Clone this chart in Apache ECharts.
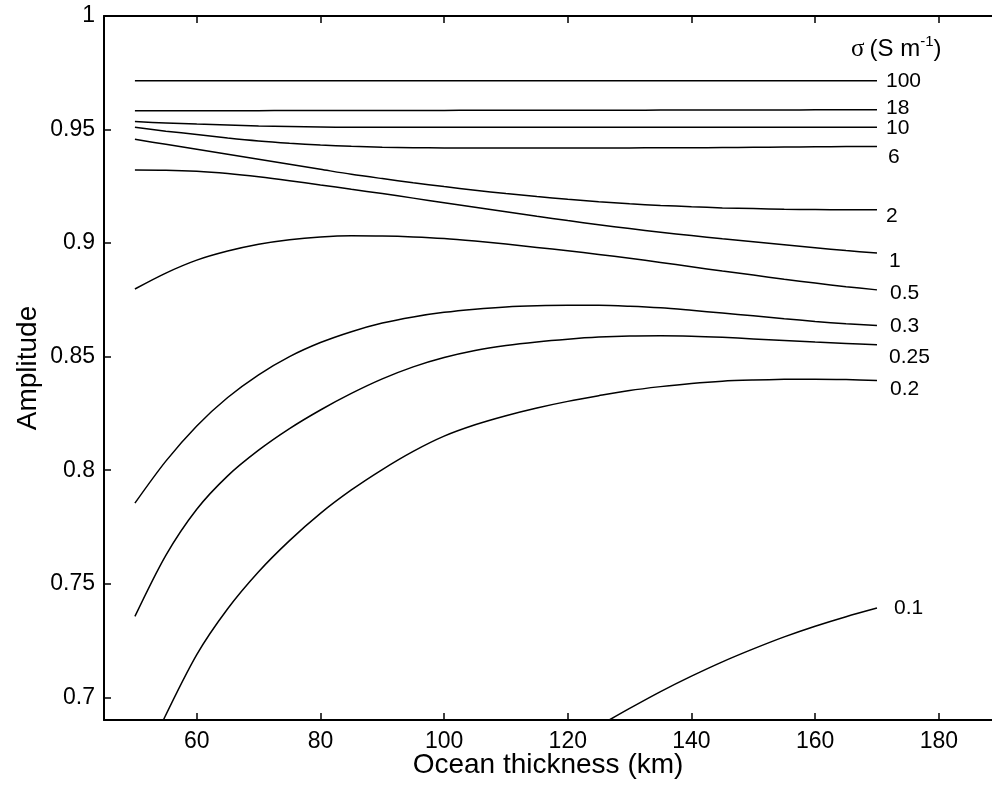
<!DOCTYPE html>
<html><head><meta charset="utf-8">
<script src="https://cdn.jsdelivr.net/npm/echarts@6/dist/echarts.min.js"></script>
<style>html,body{margin:0;padding:0;background:#fff}#c{width:992px;height:790px}</style>
</head><body><div id="c"></div>
<script>
// ---- data ----
const thickness = [50,55,60,65,70,75,80,85,90,95,100,105,110,115,120,125,130,135,140,145,150,155,160,165,170];
const thickness02 = [54.6,60,65,70,75,80,85,90,95,100,105,110,115,120,125,130,135,140,145,150,155,160,165,170];
const thickness01 = [126.7,130,135,140,145,150,155,160,165,170];

const amp100 = [0.9715,0.9715,0.9715,0.9715,0.9715,0.9715,0.9715,0.9715,0.9715,0.9715,0.9715,0.9715,0.9715,0.9715,0.9715,0.9715,0.9715,0.9715,0.9715,0.9715,0.9715,0.9715,0.9715,0.9715,0.9715];
const amp18  = [0.9583,0.9583,0.9583,0.9583,0.9583,0.9584,0.9584,0.9584,0.9584,0.9584,0.9584,0.9585,0.9585,0.9585,0.9585,0.9585,0.9585,0.9586,0.9586,0.9586,0.9586,0.9586,0.9587,0.9587,0.9587];
const amp10  = [0.9535,0.9529,0.9524,0.9520,0.9516,0.9513,0.9511,0.9510,0.9510,0.9510,0.9510,0.9510,0.9510,0.9510,0.9510,0.9510,0.9510,0.9510,0.9510,0.9510,0.9510,0.9510,0.9510,0.9510,0.9510];
const amp6   = [0.9510,0.9493,0.9478,0.9463,0.9450,0.9440,0.9432,0.9426,0.9422,0.9420,0.9419,0.9419,0.9419,0.9419,0.9419,0.9419,0.9419,0.9420,0.9420,0.9421,0.9422,0.9423,0.9424,0.9425,0.9425];
const amp2   = [0.9457,0.9435,0.9413,0.9391,0.9369,0.9347,0.9325,0.9303,0.9284,0.9266,0.9249,0.9233,0.9218,0.9205,0.9193,0.9182,0.9173,0.9166,0.9160,0.9155,0.9152,0.9149,0.9148,0.9147,0.9147];
const amp1   = [0.9322,0.9321,0.9316,0.9306,0.9292,0.9275,0.9256,0.9237,0.9218,0.9198,0.9178,0.9158,0.9138,0.9118,0.9099,0.9081,0.9064,0.9048,0.9033,0.9019,0.9006,0.8993,0.8980,0.8967,0.8956];
const amp05  = [0.8798,0.8868,0.8925,0.8965,0.8995,0.9015,0.9027,0.9032,0.9031,0.9027,0.9020,0.9009,0.8996,0.8981,0.8966,0.8950,0.8933,0.8915,0.8896,0.8877,0.8859,0.8841,0.8824,0.8808,0.8794];
const amp03  = [0.7855,0.8040,0.8195,0.8320,0.8420,0.8500,0.8562,0.8610,0.8648,0.8675,0.8695,0.8709,0.8719,0.8724,0.8726,0.8726,0.8722,0.8715,0.8704,0.8692,0.8680,0.8667,0.8655,0.8645,0.8637];
const amp025 = [0.7356,0.7625,0.7828,0.7975,0.8088,0.8183,0.8265,0.8338,0.8402,0.8455,0.8496,0.8527,0.8549,0.8565,0.8577,0.8586,0.8591,0.8592,0.8590,0.8585,0.8578,0.8571,0.8564,0.8558,0.8552];
const amp02  = [0.6900,0.7188,0.7390,0.7553,0.7690,0.7810,0.7913,0.8003,0.8083,0.8150,0.8200,0.8240,0.8274,0.8303,0.8328,0.8351,0.8368,0.8382,0.8392,0.8397,0.8400,0.8401,0.8399,0.8395];
const amp01  = [0.6900,0.6951,0.7025,0.7093,0.7156,0.7213,0.7266,0.7313,0.7355,0.7393];

const sigmaNames = ['100','18','10','6','2','1','0.5','0.3','0.25','0.2','0.1'];
const xTicks = [60,80,100,120,140,160,180];
const yTicks = [0.7,0.75,0.8,0.85,0.9,0.95,1];

// ---- styling (label nudges in px) ----
const labelDx = [0,0,0,2,0,3,4,4,3,4,8];
const labelDy = [0,-1.5,1,11,6,8,3,1,12,9,0];

const xSets = [thickness,thickness,thickness,thickness,thickness,thickness,thickness,thickness,thickness,thickness02,thickness01];
const ySets = [amp100,amp18,amp10,amp6,amp2,amp1,amp05,amp03,amp025,amp02,amp01];

const FONT = 'Liberation Sans, Arial, Helvetica, sans-serif';
const series = sigmaNames.map((name, i) => ({
  type: 'line',
  name: name,
  data: xSets[i].map((x, j) => [x, ySets[i][j]]),
  showSymbol: false,
  symbol: 'none',
  smooth: 0.3,
  clip: true,
  lineStyle: { color: '#000', width: 1.5 },
  endLabel: {
    show: true,
    formatter: name,
    distance: 9,
    offset: [labelDx[i], labelDy[i]],
    color: '#000',
    fontFamily: FONT,
    fontSize: 21
  },
  silent: true
}));

const chart = echarts.init(document.getElementById('c'), null, { renderer: 'canvas' });
chart.setOption({
  animation: false,
  backgroundColor: '#fff',
  title: {
    left: 851, top: 34, padding: 0,
    text: '{s|σ} {n|(S m}{sup|-1}{n|)}',
    textStyle: {
      fontWeight: 'normal',
      rich: {
        s: { fontFamily: 'Liberation Serif, serif', fontSize: 25, fontWeight: 'normal', color: '#000', lineHeight: 30 },
        n: { fontFamily: FONT, fontSize: 24, fontWeight: 'normal', color: '#000', lineHeight: 30 },
        sup: { fontFamily: FONT, fontSize: 15, fontWeight: 'normal', color: '#000', lineHeight: 16, verticalAlign: 'top' }
      }
    }
  },
  grid: { left: 104, top: 16, right: 0, bottom: 70, outerBoundsMode: 'none', containLabel: false },
  xAxis: [{
    type: 'value', min: 45, max: 188.6,
    name: 'Ocean thickness (km)', nameLocation: 'middle', nameGap: 31, nameMoveOverlap: false,
    nameTextStyle: { fontFamily: FONT, fontSize: 28, color: '#000' },
    axisLine: { show: true, onZero: false, lineStyle: { color: '#000', width: 2 } },
    axisTick: { show: true, inside: true, length: 7, customValues: xTicks, lineStyle: { color: '#000', width: 1.5 } },
    axisLabel: { customValues: xTicks, margin: 10, fontFamily: FONT, fontSize: 23, color: '#000' },
    splitLine: { show: false }
  }, {
    type: 'value', min: 45, max: 188.6, position: 'top',
    axisLine: { show: true, onZero: false, lineStyle: { color: '#000', width: 2 } },
    axisTick: { show: true, inside: true, length: 7, customValues: xTicks, lineStyle: { color: '#000', width: 1.5 } },
    axisLabel: { show: false },
    splitLine: { show: false }
  }],
  yAxis: [{
    type: 'value', min: 0.69, max: 1,
    name: 'Amplitude', nameLocation: 'middle', nameGap: 62, nameMoveOverlap: false,
    nameTextStyle: { fontFamily: FONT, fontSize: 28, color: '#000' },
    axisLine: { show: true, onZero: false, lineStyle: { color: '#000', width: 2 } },
    axisTick: { show: true, inside: true, length: 7, customValues: yTicks, lineStyle: { color: '#000', width: 1.5 } },
    axisLabel: { customValues: yTicks, margin: 9, fontFamily: FONT, fontSize: 23, color: '#000' },
    splitLine: { show: false }
  }],
  series: series
});
</script>
</body></html>
